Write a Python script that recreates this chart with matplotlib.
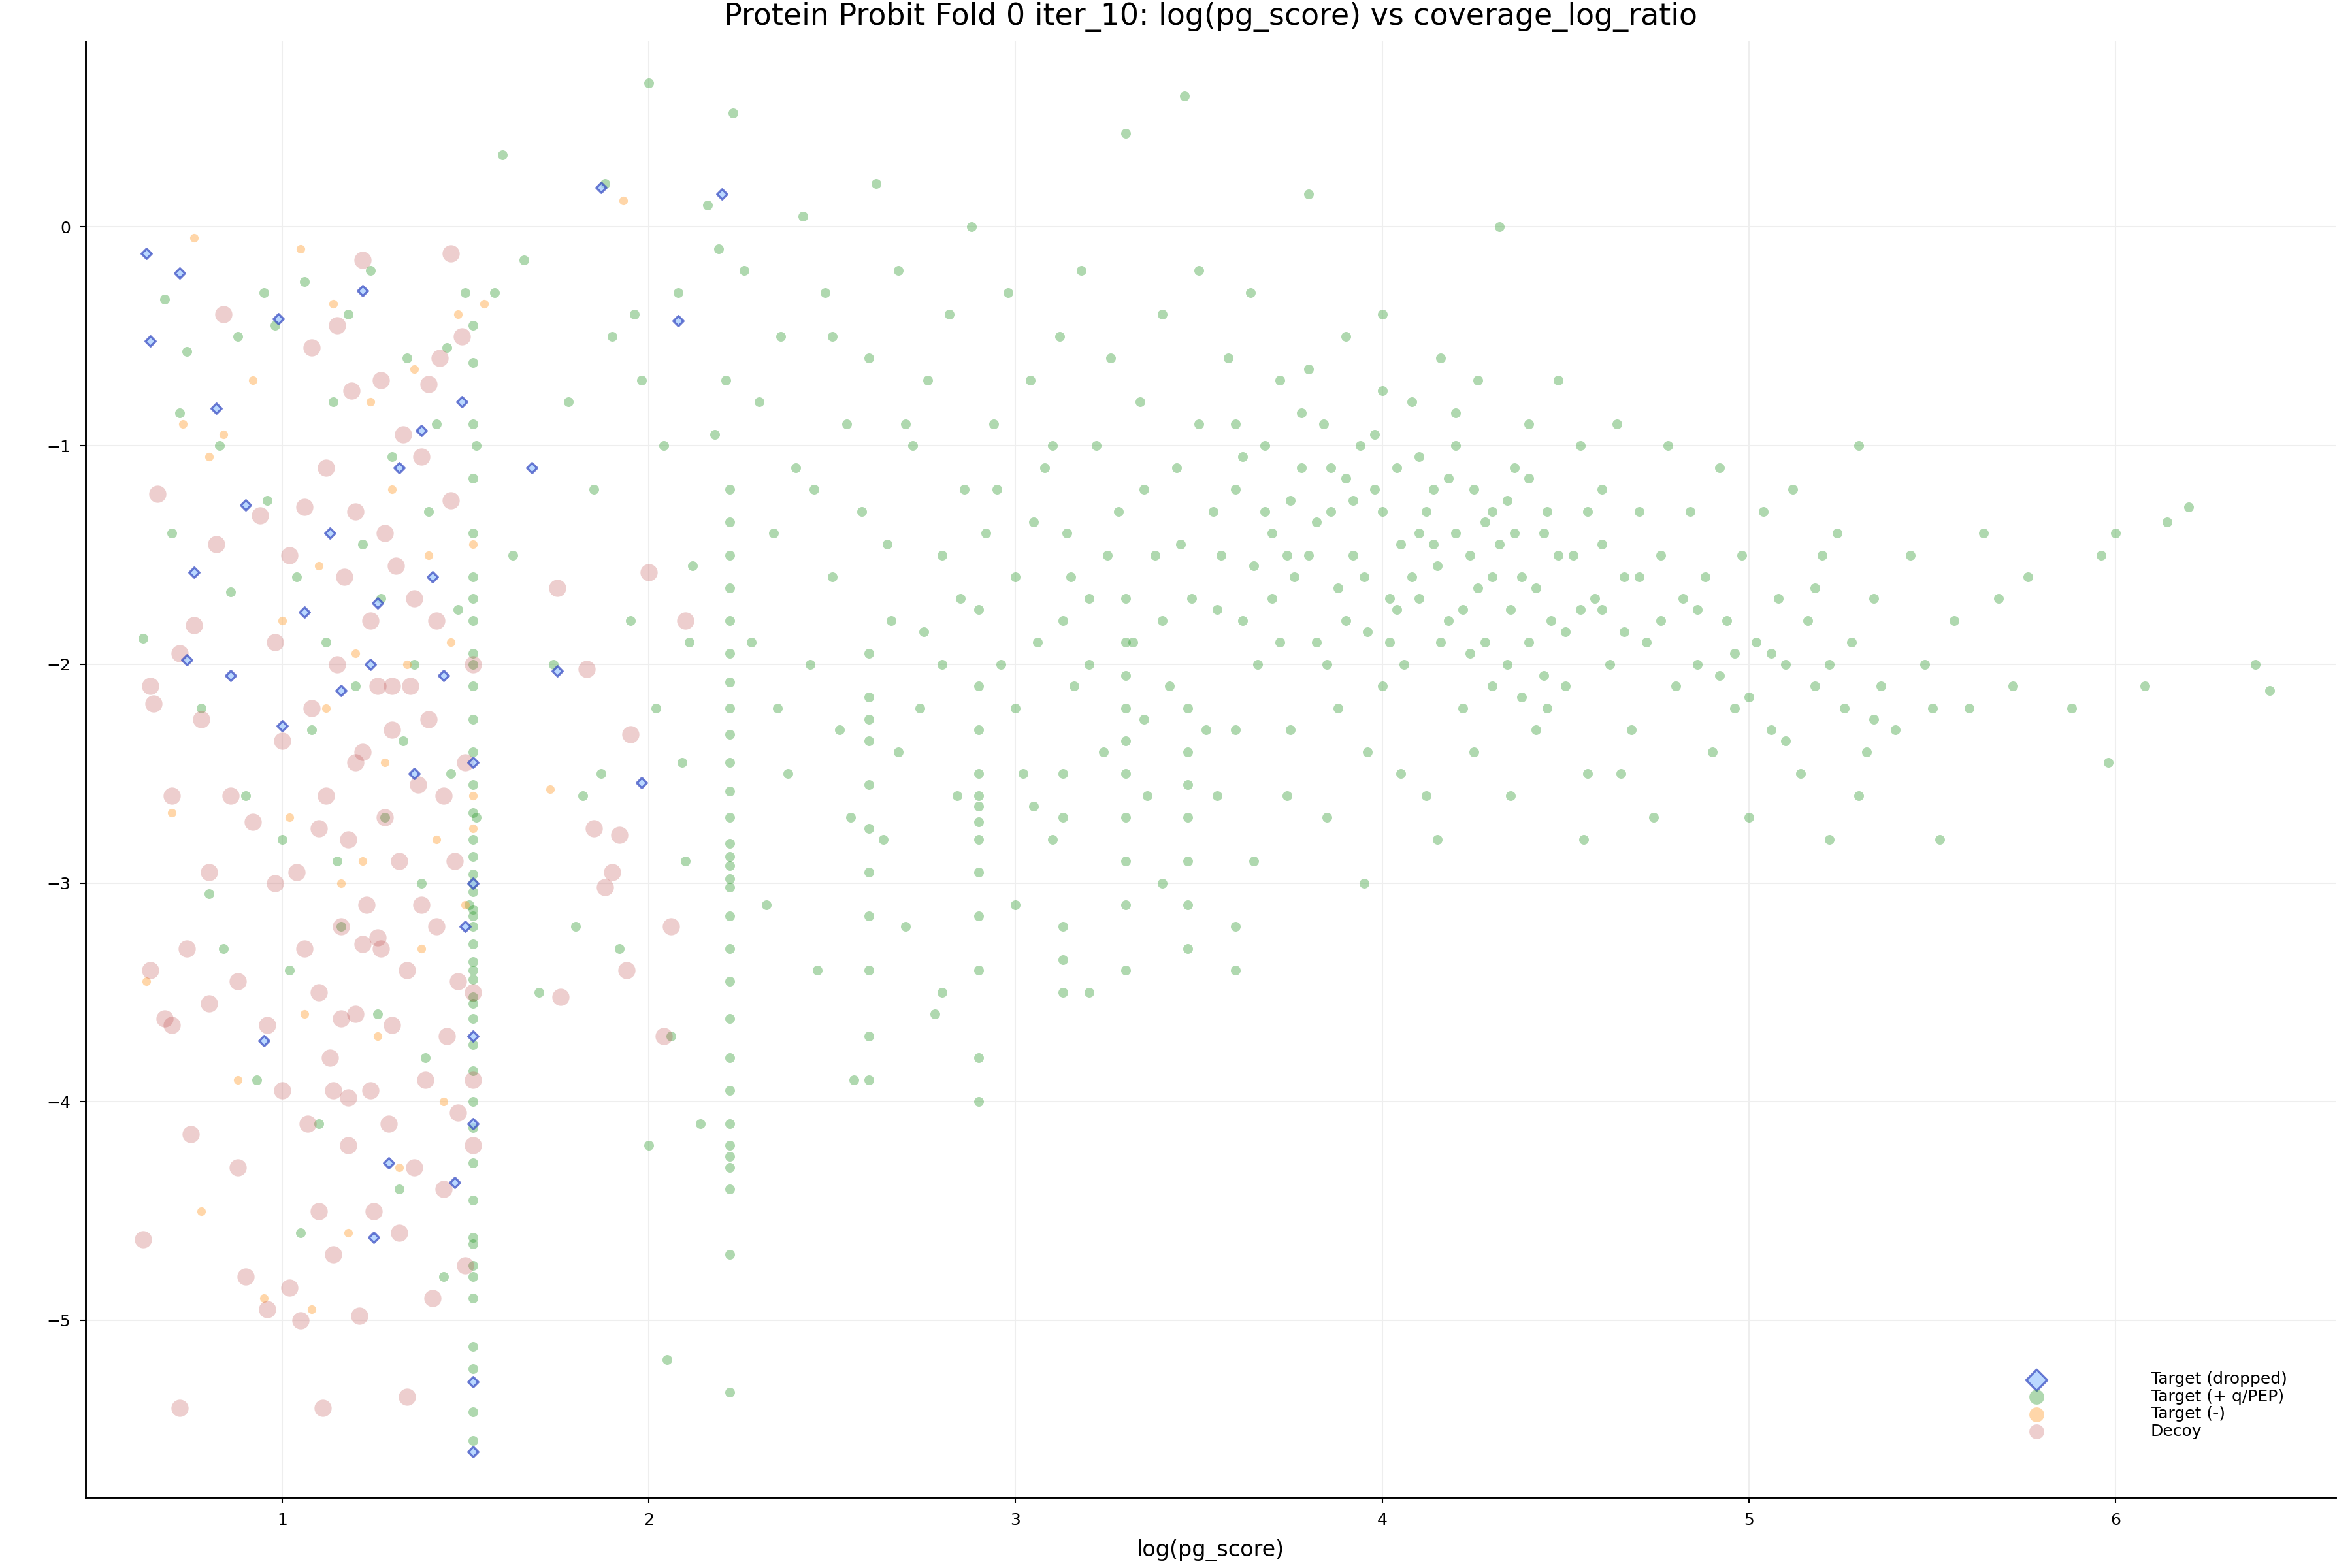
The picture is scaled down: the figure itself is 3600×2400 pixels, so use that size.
import numpy as np
import matplotlib.pyplot as plt


def parse(s):
    a = np.array([float(v) for v in s.replace(",", " ").split()])
    return a[0::2], a[1::2]


# (log(pg_score), coverage_log_ratio) pairs
green_pts = """
0.62 -1.88 0.68 -0.33 0.70 -1.40 0.72 -0.85 0.74 -0.57 0.78 -2.20 0.80 -3.05 0.83 -1.00
0.86 -1.67 0.88 -0.50 0.90 -2.60 0.93 -3.90 0.96 -1.25 0.98 -0.45 1.00 -2.80 1.02 -3.40
1.04 -1.60 1.06 -0.25 1.08 -2.30 1.10 -4.10 1.12 -1.90 1.14 -0.80 1.16 -3.20 1.18 -0.40
1.20 -2.10 1.22 -1.45 1.24 -0.20 1.26 -3.60 1.28 -2.70 1.30 -1.05 1.32 -4.40 1.34 -0.60
1.36 -2.00 1.38 -3.00 1.40 -1.30 1.42 -0.90 1.44 -4.80 1.46 -2.50 1.48 -1.75 1.50 -0.30
1.15 -2.90 0.95 -0.30 1.27 -1.70 1.39 -3.80 1.05 -4.60 1.33 -2.35 1.45 -0.55 0.84 -3.30
1.52 -0.45 1.52 -0.62 1.52 -0.90 1.52 -1.15 1.52 -1.40 1.52 -1.60 1.52 -1.80 1.52 -1.95
1.52 -2.10 1.52 -2.25 1.52 -2.40 1.52 -2.55 1.52 -2.68 1.52 -2.80 1.52 -2.88 1.52 -2.96
1.52 -3.04 1.52 -3.12 1.52 -3.20 1.52 -3.28 1.52 -3.36 1.52 -3.44 1.52 -3.52 1.52 -3.62
1.52 -3.74 1.52 -3.86 1.52 -4.00 1.52 -4.12 1.52 -4.28 1.52 -4.45 1.52 -4.62 1.52 -4.75
1.52 -4.90 1.52 -5.12 1.52 -5.22 1.52 -5.42 1.52 -5.55 1.53 -1.00 1.53 -2.70 1.51 -3.10
1.52 -1.70 1.52 -2.00 1.52 -3.00 1.52 -3.15 1.52 -3.40 1.52 -3.55 1.52 -4.65 1.52 -4.80
1.58 -0.30 1.60 0.33 1.63 -1.50 1.66 -0.15 1.70 -3.50 1.74 -2.00 1.78 -0.80 1.82 -2.60
1.85 -1.20 1.88 0.20 1.90 -0.50 1.92 -3.30 1.95 -1.80 1.98 -0.70 2.00 0.66 2.02 -2.20
2.04 -1.00 2.06 -3.70 2.08 -0.30 2.10 -2.90 2.12 -1.55 2.14 -4.10 2.16 0.10 2.18 -0.95
2.05 -5.18 1.96 -0.40 1.87 -2.50 2.11 -1.90 2.19 -0.10 1.80 -3.20 2.00 -4.20 2.09 -2.45
2.22 -1.20 2.22 -1.35 2.22 -1.50 2.22 -1.65 2.22 -1.80 2.22 -1.95 2.22 -2.08 2.22 -2.20
2.22 -2.32 2.22 -2.45 2.22 -2.58 2.22 -2.70 2.22 -2.82 2.22 -2.92 2.22 -3.02 2.22 -3.15
2.22 -3.30 2.22 -3.45 2.22 -3.62 2.22 -3.80 2.22 -3.95 2.22 -4.10 2.22 -4.25 2.22 -4.40
2.22 -4.70 2.22 -5.33 2.23 0.52 2.21 -0.70 2.22 -2.88 2.22 -2.98 2.22 -4.20 2.22 -4.30
2.26 -0.20 2.28 -1.90 2.30 -0.80 2.32 -3.10 2.34 -1.40 2.36 -0.50 2.38 -2.50 2.40 -1.10
2.42 0.05 2.44 -2.00 2.46 -3.40 2.48 -0.30 2.50 -1.60 2.52 -2.30 2.54 -0.90 2.56 -3.90
2.58 -1.30 2.60 -0.60 2.62 0.20 2.64 -2.80 2.66 -1.80 2.68 -0.20 2.70 -3.20 2.72 -1.00
2.74 -2.20 2.76 -0.70 2.78 -3.60 2.80 -1.50 2.82 -0.40 2.84 -2.60 2.86 -1.20 2.88 0.00
2.60 -1.95 2.60 -2.15 2.60 -2.35 2.60 -2.55 2.60 -2.75 2.60 -2.95 2.60 -3.15 2.60 -3.40
2.60 -3.70 2.60 -3.90 2.90 -2.30 2.90 -2.50 2.90 -2.65 2.90 -2.80 2.90 -2.95 2.90 -3.15
2.90 -3.40 2.90 -3.80 2.90 -4.00 2.90 -1.75 2.90 -2.10 2.90 -2.60 2.90 -2.72 2.60 -2.25
2.92 -1.40 2.94 -0.90 2.96 -2.00 2.98 -0.30 3.00 -1.60 3.02 -2.50 3.04 -0.70 3.06 -1.90
3.08 -1.10 3.10 -2.80 3.12 -0.50 3.14 -1.40 3.16 -2.10 3.18 -0.20 3.20 -1.70 3.22 -1.00
3.24 -2.40 3.26 -0.60 3.28 -1.30 3.30 0.43 3.32 -1.90 3.34 -0.80 3.36 -2.60 3.38 -1.50
3.40 -0.40 3.42 -2.10 3.44 -1.10 3.46 0.60 3.48 -1.70 3.50 -0.90 3.52 -2.30 3.54 -1.30
3.13 -3.20 3.13 -3.35 3.13 -3.50 3.13 -2.50 3.13 -2.70 3.13 -1.80
3.30 -1.70 3.30 -1.90 3.30 -2.05 3.30 -2.20 3.30 -2.35 3.30 -2.50 3.30 -2.70 3.30 -2.90
3.30 -3.10 3.30 -3.40 3.47 -2.20 3.47 -2.40 3.47 -2.55 3.47 -2.70 3.47 -2.90 3.47 -3.10
3.47 -3.30 3.60 -3.20 3.60 -3.40 3.60 -2.30
2.45 -1.20 2.55 -2.70 2.65 -1.45 2.75 -1.85 2.85 -1.70 2.95 -1.20 3.05 -1.35 3.15 -1.60
3.25 -1.50 3.35 -1.20 3.45 -1.45 3.55 -1.75 2.35 -2.20 2.50 -0.50 2.70 -0.90 3.00 -2.20
3.20 -2.00 3.40 -1.80 3.10 -1.00 2.80 -2.00 3.35 -2.25 3.05 -2.65 2.68 -2.40 3.50 -0.20
3.56 -1.50 3.58 -0.60 3.60 -1.20 3.62 -1.80 3.64 -0.30 3.66 -2.00 3.68 -1.00 3.70 -1.40
3.72 -0.70 3.74 -2.60 3.76 -1.60 3.78 -1.10 3.80 0.15 3.82 -1.90 3.84 -0.90 3.86 -1.30
3.88 -2.20 3.90 -0.50 3.92 -1.50 3.94 -1.00 3.96 -2.40 3.98 -1.20 4.00 -0.40 4.02 -1.70
4.04 -1.10 4.06 -2.00 4.08 -0.80 4.10 -1.40 4.12 -2.60 4.14 -1.20 4.16 -0.60 4.18 -1.80
4.20 -1.00 4.22 -2.20 4.24 -1.50 4.26 -0.70 4.28 -1.90 4.30 -1.30 4.32 0.00 4.34 -2.00
4.36 -1.10 4.38 -1.60 4.40 -0.90 4.42 -2.30 4.44 -1.40 4.46 -1.80 4.48 -0.70 4.50 -2.10
4.52 -1.50 4.54 -1.00 4.56 -2.50 4.58 -1.70 4.60 -1.20 4.62 -2.00 4.64 -0.90 4.66 -1.60
4.68 -2.30 4.70 -1.30 4.72 -1.90 4.74 -2.70 4.76 -1.50 4.78 -1.00 4.80 -2.10 4.82 -1.70
3.70 -1.70 3.80 -1.50 3.90 -1.80 4.00 -1.30 4.10 -1.70 4.20 -1.40 4.30 -1.60 4.40 -1.90
3.75 -1.25 3.85 -2.00 3.95 -1.60 4.05 -1.45 4.15 -1.55 4.25 -1.20 4.35 -1.75 4.45 -1.30
3.65 -1.55 4.60 -1.75 4.70 -1.60 4.50 -1.85 4.10 -1.05 3.90 -1.15 4.30 -2.10 4.00 -2.10
3.72 -1.90 3.82 -1.35 3.92 -1.25 4.02 -1.90 4.12 -1.30 4.22 -1.75 4.32 -1.45 4.42 -1.65
3.78 -0.85 3.88 -1.65 3.98 -0.95 4.08 -1.60 4.18 -1.15 4.28 -1.35 4.38 -2.15 4.48 -1.50
3.68 -1.30 3.86 -1.10 4.04 -1.75 4.16 -1.90 4.26 -1.65 4.34 -1.25 4.44 -2.05 4.54 -1.75
3.62 -1.05 3.74 -1.50 3.96 -1.85 4.14 -1.45 4.24 -1.95 4.36 -1.40 4.56 -1.30 4.66 -1.85
3.60 -0.90 3.80 -0.65 4.00 -0.75 4.20 -0.85 4.40 -1.15 4.60 -1.45 4.76 -1.80 4.86 -1.75
3.55 -2.60 3.65 -2.90 3.75 -2.30 3.85 -2.70 3.95 -3.00 4.05 -2.50 4.15 -2.80 4.25 -2.40
4.35 -2.60 4.45 -2.20 4.55 -2.80 4.65 -2.50 3.40 -3.00 3.20 -3.50 3.00 -3.10 2.80 -3.50
4.84 -1.30 4.86 -2.00 4.88 -1.60 4.90 -2.40 4.92 -1.10 4.94 -1.80 4.96 -2.20 4.98 -1.50
5.00 -2.70 5.02 -1.90 5.04 -1.30 5.06 -2.30 5.08 -1.70 5.10 -2.00 5.12 -1.20 5.14 -2.50
5.16 -1.80 5.18 -2.10 5.20 -1.50 5.22 -2.80 5.24 -1.40 5.26 -2.20 5.28 -1.90 5.30 -1.00
5.32 -2.40 5.34 -1.70 5.36 -2.10 5.40 -2.30 5.44 -1.50 5.48 -2.00 5.52 -2.80 5.56 -1.80
5.60 -2.20 5.64 -1.40 5.68 -1.70 5.72 -2.10 5.76 -1.60 5.88 -2.20 5.96 -1.50 5.98 -2.45
6.00 -1.40 6.08 -2.10 6.14 -1.35 6.20 -1.28 6.38 -2.00 6.42 -2.12 5.50 -2.20 5.30 -2.60
4.92 -2.05 5.00 -2.15 5.06 -1.95 4.96 -1.95 5.10 -2.35 5.18 -1.65 5.22 -2.00 5.34 -2.25
"""

decoy_pts = """
0.62 -4.63 0.64 -2.10 0.64 -3.40 0.65 -2.18 0.66 -1.22 0.68 -3.62 0.70 -2.60 0.70 -3.65
0.72 -5.40 0.72 -1.95 0.74 -3.30 0.75 -4.15 0.76 -1.82 0.78 -2.25 0.80 -2.95 0.80 -3.55
0.82 -1.45 0.84 -0.40 0.86 -2.60 0.88 -3.45 0.88 -4.30 0.90 -4.80 0.92 -2.72 0.94 -1.32
0.96 -3.65 0.96 -4.95 0.98 -1.90 0.98 -3.00 1.00 -2.35 1.00 -3.95 1.02 -4.85 1.02 -1.50
1.04 -2.95 1.05 -5.00 1.06 -1.28 1.06 -3.30 1.07 -4.10 1.08 -2.20 1.08 -0.55 1.10 -3.50
1.10 -4.50 1.11 -5.40 1.12 -2.60 1.12 -1.10 1.13 -3.80 1.14 -4.70 1.15 -2.00 1.15 -0.45
1.16 -3.20 1.17 -1.60 1.18 -4.20 1.18 -2.80 1.19 -0.75 1.20 -3.60 1.20 -1.30 1.21 -4.98
1.22 -2.40 1.22 -0.15 1.23 -3.10 1.24 -1.80 1.24 -3.95 1.25 -4.50 1.26 -2.10 1.27 -0.70
1.27 -3.30 1.28 -1.40 1.28 -2.70 1.29 -4.10 1.30 -3.65 1.30 -2.30 1.31 -1.55 1.32 -4.60
1.32 -2.90 1.33 -0.95 1.34 -3.40 1.34 -5.35 1.35 -2.10 1.36 -1.70 1.36 -4.30 1.37 -2.55
1.38 -3.10 1.38 -1.05 1.39 -3.90 1.40 -0.72 1.40 -2.25 1.41 -4.90 1.42 -1.80 1.42 -3.20
1.43 -0.60 1.44 -2.60 1.44 -4.40 1.45 -3.70 1.46 -1.25 1.46 -0.12 1.47 -2.90 1.48 -4.05
1.48 -3.45 1.49 -0.50 1.50 -2.45 1.50 -4.75 1.52 -3.90 1.52 -2.00 1.52 -4.20 1.52 -3.50
1.75 -1.65 1.76 -3.52 1.83 -2.02 1.85 -2.75 1.88 -3.02 1.90 -2.95 1.92 -2.78 1.94 -3.40
1.95 -2.32 2.00 -1.58 2.04 -3.70 2.06 -3.20 2.10 -1.80
1.14 -3.95 1.18 -3.98 1.22 -3.28 1.26 -3.25 1.16 -3.62 1.20 -2.45 1.10 -2.75 1.30 -2.10
"""

orange_pts = """
0.63 -3.45 0.70 -2.68 0.73 -0.90 0.76 -0.05 0.78 -4.50 0.80 -1.05 0.84 -0.95 0.88 -3.90
0.92 -0.70 0.95 -4.90 1.00 -1.80 1.02 -2.70 1.05 -0.10 1.06 -3.60 1.08 -4.95 1.10 -1.55
1.12 -2.20 1.14 -0.35 1.16 -3.00 1.18 -4.60 1.20 -1.95 1.22 -2.90 1.24 -0.80 1.26 -3.70
1.28 -2.45 1.30 -1.20 1.32 -4.30 1.34 -2.00 1.36 -0.65 1.38 -3.30 1.40 -1.50 1.42 -2.80
1.44 -4.00 1.46 -1.90 1.48 -0.40 1.50 -3.10 1.52 -2.75 1.52 -2.60 1.52 -1.45 1.55 -0.35
1.73 -2.57 1.93 0.12
"""

blue_pts = """
0.63 -0.12 0.64 -0.52 0.72 -0.21 0.74 -1.98 0.76 -1.58 0.82 -0.83 0.86 -2.05 0.90 -1.27
0.95 -3.72 0.99 -0.42 1.00 -2.28 1.06 -1.76 1.13 -1.40 1.16 -2.12 1.22 -0.29 1.24 -2.00
1.26 -1.72 1.29 -4.28 1.32 -1.10 1.36 -2.50 1.38 -0.93 1.41 -1.60 1.44 -2.05 1.47 -4.37
1.49 -0.80 1.50 -3.20 1.52 -3.00 1.52 -4.10 1.52 -5.60 1.52 -5.28 1.52 -2.45 1.52 -3.70
1.25 -4.62 1.68 -1.10 1.75 -2.03 1.87 0.18 1.98 -2.54 2.08 -0.43 2.20 0.15
"""

gx, gy = parse(green_pts)
dx, dy = parse(decoy_pts)
ox, oy = parse(orange_pts)
bx, by = parse(blue_pts)

fig = plt.figure(figsize=(12, 8), dpi=300)
ax = fig.add_axes([131 / 3600, 1 - 2292 / 2400, (3575 - 131) / 3600, (2292 - 63) / 2400])

ax.scatter(gx, gy, s=13, color='#2e9a2e', alpha=0.38, linewidths=0, label='Target (+ q/PEP)', zorder=2)
ax.scatter(ox, oy, s=10, color='#ffa640', alpha=0.45, linewidths=0, label='Target (-)', zorder=2)
ax.scatter(dx, dy, s=40, color='#c05050', alpha=0.28, linewidths=0, label='Decoy', zorder=2)
ax.scatter(bx, by, s=7, marker='D', facecolor='#9ec8ff', edgecolor='#3045c0', alpha=0.7,
           linewidths=0.8, label='Target (dropped)', zorder=3)

ax.set_xlim(0.464, 6.60)
ax.set_ylim(-5.81, 0.85)
ax.set_xticks([1, 2, 3, 4, 5, 6])
ax.set_yticks([0, -1, -2, -3, -4, -5])
ax.set_yticklabels(['0', '−1', '−2', '−3', '−4', '−5'])
ax.tick_params(labelsize=6, length=2, width=0.5)
ax.grid(True, color='#eeeeee', linewidth=0.5, zorder=0)
ax.set_axisbelow(True)
for side in ['top', 'right']:
    ax.spines[side].set_visible(False)
for side in ['left', 'bottom']:
    ax.spines[side].set_linewidth(0.7)

ax.set_xlabel('log(pg_score)', fontsize=8)
ax.set_title('Protein Probit Fold 0 iter_10: log(pg_score) vs coverage_log_ratio', fontsize=11)

h, l = ax.get_legend_handles_labels()
order = [3, 0, 1, 2]
leg = ax.legend([h[i] for i in order], [l[i] for i in order], loc='lower right',
                bbox_to_anchor=(0.985, 0.03), frameon=False, fontsize=6, handletextpad=6,
                labelspacing=0.1)
for hd in leg.legend_handles:
    hd.set_sizes([30])

fig.savefig('out.png', dpi=300)
